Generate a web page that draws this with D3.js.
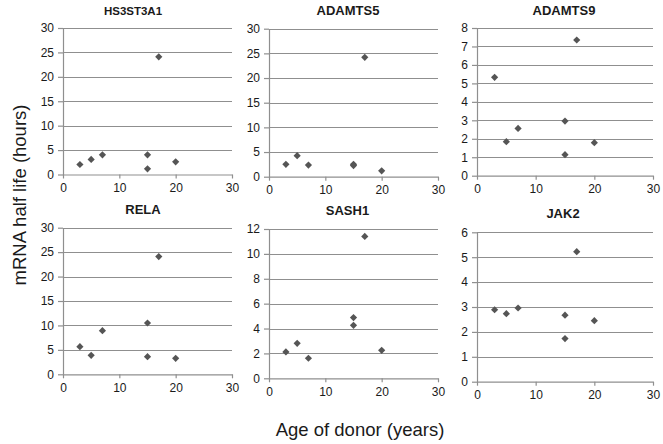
<!DOCTYPE html>
<html>
<head>
<meta charset="utf-8">
<script src="https://cdn.jsdelivr.net/npm/d3@7"></script>
<style>
  html, body { margin: 0; padding: 0; background: #fff; }
  svg { display: block; font-family: "Liberation Sans", Arial, Helvetica, sans-serif; }
</style>
</head>
<body>
<svg id="chart" width="663" height="444"></svg>
<script>
// ---- data ----
const ages = [3, 5, 7, 15, 15, 17, 20];
const genes = ["HS3ST3A1", "ADAMTS5", "ADAMTS9", "RELA", "SASH1", "JAK2"];
const hs3st3a1 = [2.05, 3.08, 4.03, 4.03, 1.16, 24.1, 2.6];
const adamts5  = [2.5, 4.26, 2.36, 2.5, 2.25, 24.2, 1.2];
const adamts9  = [5.33, 1.84, 2.56, 2.96, 1.14, 7.35, 1.79];
const rela     = [5.66, 3.89, 8.93, 10.5, 3.6, 24.1, 3.27];
const sash1    = [2.12, 2.81, 1.61, 4.88, 4.26, 11.4, 2.25];
const jak2     = [2.89, 2.73, 2.96, 2.67, 1.73, 5.22, 2.45];
const seriesValues = [hs3st3a1, adamts5, adamts9, rela, sash1, jak2];
const yMaxes = [30, 30, 8, 30, 12, 6];
const yStepsBetweenTicks = [5, 5, 1, 5, 2, 1];
const xTickValues = [0, 10, 20, 30];
const xLabel = "Age of donor (years)";
const yLabel = "mRNA half life (hours)";

// ---- layout (pixel boxes of each panel's plot area; ts = title font size) ----
const boxes = [
  {l: 63,  r: 232, t: 28,    b: 174.5, tx: 133, ty: 14.5, ts: 11.5},
  {l: 269, r: 438, t: 28.7,  b: 176.7, tx: 348, ty: 15, ts: 13},
  {l: 477, r: 653, t: 28,    b: 175.7, tx: 564, ty: 15, ts: 13},
  {l: 63,  r: 232, t: 227.7, b: 374.3, tx: 143, ty: 214, ts: 13},
  {l: 269, r: 438, t: 229,   b: 378.3, tx: 347.5, ty: 215, ts: 13},
  {l: 477, r: 653, t: 232.3, b: 381.7, tx: 563, ty: 217.5, ts: 13}
];

const svg = d3.select("#chart");
const gridColor = "#8f8f8f";
const markColor = "#555555";
const textColor = "#1a1a1a";

genes.forEach((gene, i) => {
  const box = boxes[i];
  const x = d3.scaleLinear().domain([0, 30]).range([box.l, box.r]);
  const y = d3.scaleLinear().domain([0, yMaxes[i]]).range([box.b, box.t]);
  const yTicks = d3.range(0, yMaxes[i] + 1e-9, yStepsBetweenTicks[i]);
  const g = svg.append("g");

  // gridlines
  g.append("g").selectAll("line").data(yTicks.filter(v => v > 0)).join("line")
    .attr("x1", box.l).attr("x2", box.r)
    .attr("y1", d => Math.round(y(d)) + 0.5).attr("y2", d => Math.round(y(d)) + 0.5)
    .attr("stroke", gridColor).attr("stroke-width", 1.2);

  // y axis
  const yAxis = d3.axisLeft(y).tickValues(yTicks).tickSize(5).tickSizeOuter(0).tickPadding(4)
    .tickFormat(d3.format("d"));
  const ya = g.append("g").attr("transform", `translate(${box.l},0)`).call(yAxis);
  ya.selectAll("path, line").attr("stroke", gridColor).attr("stroke-width", 1.2);
  ya.selectAll("text").attr("fill", textColor).attr("font-size", 12);

  // x axis
  const xAxis = d3.axisBottom(x).tickValues(xTickValues).tickSize(4).tickSizeOuter(0).tickPadding(5)
    .tickFormat(d3.format("d"));
  const xa = g.append("g").attr("transform", `translate(0,${box.b})`).call(xAxis);
  xa.selectAll("path, line").attr("stroke", gridColor).attr("stroke-width", 1.2);
  xa.selectAll("text").attr("fill", textColor).attr("font-size", 12);

  // title
  g.append("text").attr("x", box.tx).attr("y", box.ty)
    .attr("text-anchor", "middle").attr("font-weight", "bold").attr("font-size", box.ts)
    .attr("fill", textColor).text(gene);

  // points
  const pts = ages.map((a, k) => ({a, v: seriesValues[i][k]}));
  g.append("g").selectAll("path").data(pts).join("path")
    .attr("d", d3.symbol(d3.symbolSquare, 26)())
    .attr("transform", d => `translate(${x(d.a)},${y(d.v)}) rotate(45)`)
    .attr("fill", markColor);
});

// axis titles
svg.append("text").attr("x", 360).attr("y", 436)
  .attr("text-anchor", "middle").attr("font-size", 18.5).attr("fill", textColor)
  .text(xLabel);
svg.append("text").attr("transform", "translate(26,195) rotate(-90)")
  .attr("text-anchor", "middle").attr("font-size", 18.5).attr("fill", textColor)
  .text(yLabel);
</script>
</body>
</html>
